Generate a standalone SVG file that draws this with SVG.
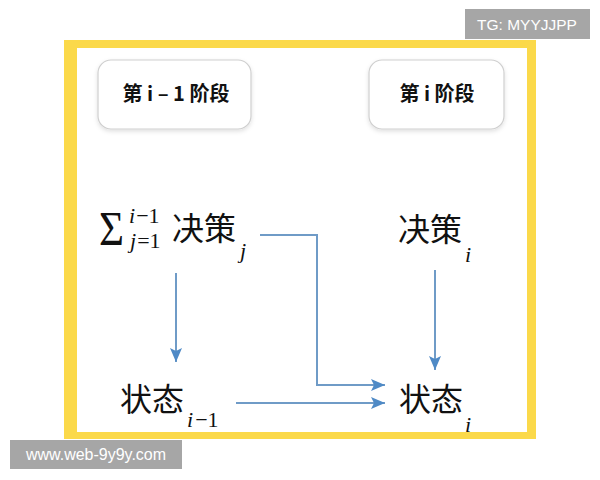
<svg xmlns="http://www.w3.org/2000/svg" width="600" height="480" viewBox="0 0 600 480">
<defs>
<style>
.cjk{font-family:"Noto Sans CJK SC","Noto Sans",sans-serif;fill:#111}
.lbl{font-family:"Noto Sans CJK SC","Noto Sans",sans-serif;font-weight:bold;font-size:20px;fill:#111;text-anchor:middle}
.m{font-family:"Liberation Serif","DejaVu Serif",serif;font-style:italic;fill:#111}
.mr{font-family:"Liberation Serif","DejaVu Serif",serif;fill:#111}
.box{fill:#fff;stroke:#cfcfcf;stroke-width:1.2}
.wm{font-family:"Liberation Sans",Arial,sans-serif;fill:#fff;text-anchor:middle}
.ln{fill:none;stroke:#6f9bc7;stroke-width:2}
</style>
<filter id="sh" x="-10%" y="-10%" width="130%" height="140%">
<feDropShadow dx="0" dy="2" stdDeviation="2" flood-color="#000" flood-opacity="0.12"/>
</filter>
<marker id="ah" viewBox="0 0 14 12" refX="14" refY="6" markerWidth="14" markerHeight="12" markerUnits="userSpaceOnUse" orient="auto">
<path d="M0,0 L14,6 L0,12 L3,6 Z" fill="#4f8ac6"/>
</marker>
</defs>
<rect x="0" y="0" width="600" height="480" fill="#fff"/>
<rect x="64" y="40" width="472" height="399" fill="#fbd94a"/>
<rect x="77" y="48" width="450" height="384" fill="#fff"/>
<g id="stage-prev">
<rect class="box" x="98" y="60" width="153" height="69" rx="13" filter="url(#sh)"/>
<text class="lbl" x="176" y="101">第 i – 1 阶段</text>
</g>
<g id="stage-cur">
<rect class="box" x="369" y="60" width="135" height="69" rx="13" filter="url(#sh)"/>
<text class="lbl" x="437" y="101">第 i 阶段</text>
</g>
<g id="decision-sum">
<text class="mr" x="99" y="245" font-size="48" textLength="25" lengthAdjust="spacingAndGlyphs">Σ</text>
<text x="129" y="223" font-size="22"><tspan class="m">i</tspan><tspan class="mr" dx="1">−1</tspan></text>
<text x="130" y="248" font-size="22"><tspan class="m">j</tspan><tspan class="mr" dx="1">=1</tspan></text>
<text class="cjk" x="172" y="240" font-size="32">决策</text>
<text class="m" x="240" y="258" font-size="22">j</text>
</g>
<g id="state-prev">
<text class="cjk" x="120" y="411" font-size="32">状态</text>
<text x="187" y="427" font-size="22"><tspan class="m">i</tspan><tspan class="mr" dx="2">−1</tspan></text>
</g>
<g id="decision-cur">
<text class="cjk" x="398" y="241" font-size="32">决策</text>
<text class="m" x="465" y="262" font-size="22">i</text>
</g>
<g id="state-cur">
<text class="cjk" x="399" y="411" font-size="32">状态</text>
<text class="m" x="465" y="432" font-size="22">i</text>
</g>
<g id="connectors">
<path class="ln" d="M176,273 V362" marker-end="url(#ah)"/>
<path class="ln" d="M435,270 V370" marker-end="url(#ah)"/>
<path class="ln" d="M260,235 H317 V385 H385" marker-end="url(#ah)"/>
<path class="ln" d="M236,403 H385" marker-end="url(#ah)"/>
</g>
<g id="watermarks">
<rect x="465" y="9" width="125" height="30" fill="#a6a6a6"/>
<text class="wm" x="527" y="30" font-size="15.5">TG: MYYJJPP</text>
<rect x="10" y="440" width="172" height="29" fill="#a6a6a6"/>
<text class="wm" x="96" y="460" font-size="16">www.web-9y9y.com</text>
</g>
</svg>
